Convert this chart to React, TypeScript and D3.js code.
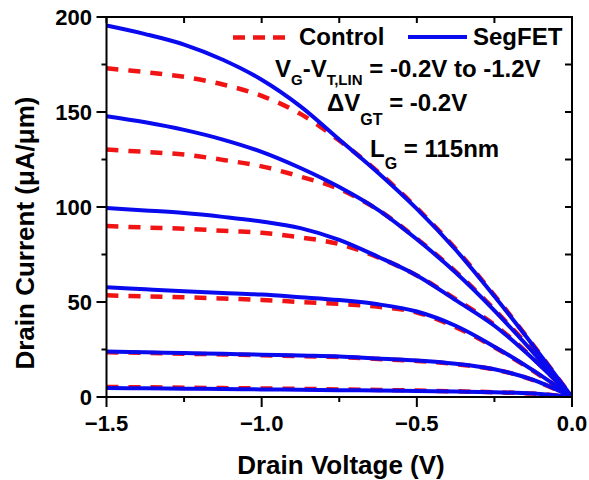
import React from "react";
import * as d3 from "d3";

const VD = [-1.5, -1.375, -1.25, -1.125, -1.0, -0.875, -0.75, -0.625, -0.5, -0.375, -0.25, -0.125, 0];

// SegFET (solid blue), VG-VT,LIN = -1.2 ... -0.2
const SEG_12 = [195.5, 191, 185.5, 177.5, 167, 153, 135.5, 118, 99, 77.5, 53, 27, 0];
const SEG_10 = [147.8, 144.6, 140.6, 135.5, 129, 120.5, 110.5, 98.5, 83, 65.5, 45.5, 23.5, 0];
const SEG_08 = [99.5, 98.2, 96.8, 94.8, 92.4, 88.9, 82.7, 73.8, 64, 51, 37.5, 20, 0];
const SEG_06 = [57.8, 56.7, 55.7, 54.8, 53.9, 52.5, 51, 48.8, 45, 37.5, 26.5, 14, 0];
const SEG_04 = [23.9, 23.5, 23.1, 22.7, 22.3, 21.8, 21.3, 20.2, 19.2, 17.5, 14.6, 9, 0];
const SEG_02 = [4.7, 4.6, 4.4, 4.2, 4.0, 3.8, 3.6, 3.4, 3.2, 2.9, 2.5, 1.8, 0];

// Control (dashed red)
const CTL_12 = [173, 171, 168.5, 164.5, 158.5, 149, 135, 118.5, 99.5, 78, 53.5, 27.3, 0];
const CTL_10 = [130.2, 129, 127.6, 124.8, 121.4, 116, 109.5, 98.5, 83.3, 66, 46, 24, 0];
const CTL_08 = [90, 89.2, 88.6, 87.5, 86.4, 84, 80.5, 73.5, 64, 51.5, 38, 20.3, 0];
const CTL_06 = [53.5, 53, 52.5, 51.8, 51.1, 50, 49, 47.5, 44.5, 36.8, 26.2, 13.7, 0];
const CTL_04 = [23.6, 23.2, 22.8, 22.4, 22.0, 21.5, 21.0, 20.0, 19.0, 17.3, 14.5, 8.9, 0];
const CTL_02 = [5.3, 5.1, 4.9, 4.7, 4.5, 4.3, 4.0, 3.7, 3.4, 3.0, 2.5, 1.8, 0];

const SEG_SERIES = [SEG_12, SEG_10, SEG_08, SEG_06, SEG_04, SEG_02];
const CTL_SERIES = [CTL_12, CTL_10, CTL_08, CTL_06, CTL_04, CTL_02];

const X_MAJOR = [-1.5, -1.0, -0.5, 0.0];
const X_MINOR = [-1.25, -0.75, -0.25];
const Y_MAJOR = [0, 50, 100, 150, 200];
const Y_MINOR = [25, 75, 125, 175];

const BLUE = "#0a0aee";
const RED = "#f01414";
const FONT = "'Liberation Sans', Arial, sans-serif";

export default function App() {
  const L = 106.5, R = 572, T = 17, B = 397;
  const x = d3.scaleLinear().domain([-1.5, 0]).range([L, R]);
  const y = d3.scaleLinear().domain([0, 200]).range([B, T]);
  const line = d3
    .line<number>()
    .x((_, i) => x(VD[i]))
    .y((d) => y(d))
    .curve(d3.curveCatmullRom.alpha(0.5));

  return (
    <svg
      width={589}
      height={480}
      style={{ position: "absolute", left: 0, top: 0, background: "#fff" }}
      fontFamily={FONT}
      fontWeight="bold"
    >
      <rect x={0} y={0} width={589} height={480} fill="#fff" />
      <defs>
        <clipPath id="plot">
          <rect x={L} y={T} width={R - L} height={B - T} />
        </clipPath>
      </defs>
      <g clipPath="url(#plot)">
        {CTL_SERIES.map((s, i) => (
          <path key={"c" + i} d={line(s) || ""} fill="none" stroke={RED} strokeWidth={4.5} strokeDasharray="12,10" />
        ))}
        {SEG_SERIES.map((s, i) => (
          <path key={"s" + i} d={line(s) || ""} fill="none" stroke={BLUE} strokeWidth={4} />
        ))}
      </g>

      {/* frame */}
      <rect x={L} y={T} width={R - L} height={B - T} fill="none" stroke="#000" strokeWidth={2} />

      {/* x ticks */}
      {X_MAJOR.map((v) => (
        <g key={"xm" + v}>
          <line x1={x(v)} x2={x(v)} y1={B} y2={B + 10} stroke="#000" strokeWidth={2} />
          <line x1={x(v)} x2={x(v)} y1={T} y2={T + 6} stroke="#000" strokeWidth={2} />
          <text x={x(v)} y={431} textAnchor="middle" fontSize={22}>
            {d3.format(".1f")(v)}
          </text>
        </g>
      ))}
      {X_MINOR.map((v) => (
        <g key={"xn" + v}>
          <line x1={x(v)} x2={x(v)} y1={B} y2={B + 5} stroke="#000" strokeWidth={2} />
          <line x1={x(v)} x2={x(v)} y1={T} y2={T + 6} stroke="#000" strokeWidth={2} />
        </g>
      ))}

      {/* y ticks */}
      {Y_MAJOR.map((v) => (
        <g key={"ym" + v}>
          <line x1={L - 10} x2={L} y1={y(v)} y2={y(v)} stroke="#000" strokeWidth={2} />
          <line x1={R - 7} x2={R} y1={y(v)} y2={y(v)} stroke="#000" strokeWidth={2} />
          <text x={92} y={y(v)} dy="0.36em" textAnchor="end" fontSize={22}>
            {v}
          </text>
        </g>
      ))}
      {Y_MINOR.map((v) => (
        <g key={"yn" + v}>
          <line x1={L - 5} x2={L} y1={y(v)} y2={y(v)} stroke="#000" strokeWidth={2} />
          <line x1={R - 7} x2={R} y1={y(v)} y2={y(v)} stroke="#000" strokeWidth={2} />
        </g>
      ))}

      {/* axis titles */}
      <text x={341} y={474} textAnchor="middle" fontSize={26}>
        Drain Voltage (V)
      </text>
      <text transform="translate(34,233) rotate(-90)" textAnchor="middle" fontSize={26}>
        Drain Current (μA/μm)
      </text>

      {/* legend */}
      <line x1={233} x2={285} y1={37.5} y2={37.5} stroke={RED} strokeWidth={4.5} strokeDasharray="12,8" />
      <text x={299} y={45} fontSize={24}>Control</text>
      <line x1={408} x2={467} y1={37} y2={37} stroke={BLUE} strokeWidth={4} />
      <text x={473} y={45} fontSize={24}>SegFET</text>

      {/* annotations */}
      <text x={275} y={77} fontSize={24}>
        V<tspan fontSize={15} dy={8}>G</tspan>
        <tspan dy={-8}>-V</tspan>
        <tspan fontSize={15} dy={8}>T,LIN</tspan>
        <tspan dy={-8}> = -0.2V to -1.2V</tspan>
      </text>
      <text x={327} y={111} fontSize={24}>
        ΔV<tspan fontSize={16} dy={14}>GT</tspan>
        <tspan dy={-14}> = -0.2V</tspan>
      </text>
      <text x={370} y={157} fontSize={24}>
        L<tspan fontSize={16} dy={12}>G</tspan>
        <tspan dy={-12}> = 115nm</tspan>
      </text>
    </svg>
  );
}
